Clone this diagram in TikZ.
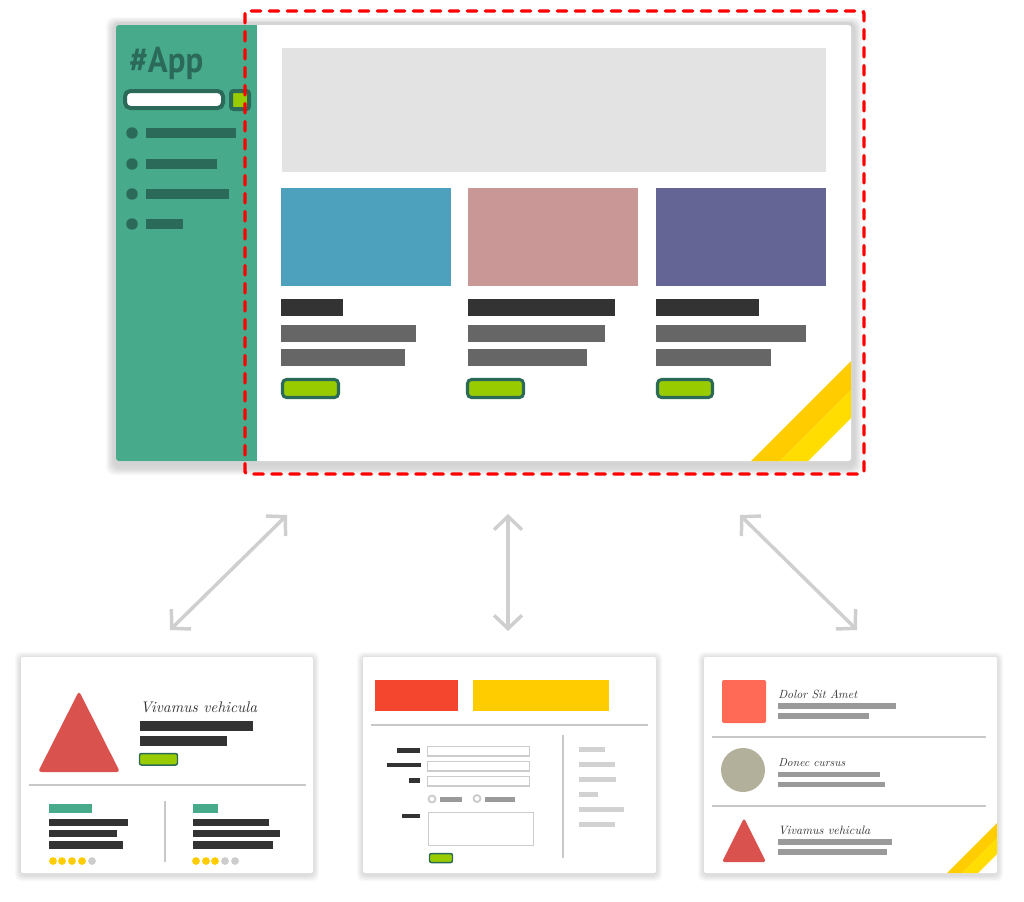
\documentclass[tikz,border=0pt]{standalone}
\usepackage{fontspec}
\newfontfamily\appfont{PT Sans}
\usetikzlibrary{arrows.meta}
\definecolor{sidegreen}{HTML}{47AA8B}
\definecolor{darkteal}{HTML}{2B6A58}
\definecolor{lime}{HTML}{99CC00}
\definecolor{herogray}{HTML}{E3E3E3}
\definecolor{cardblue}{HTML}{4DA1BD}
\definecolor{cardpink}{HTML}{C99896}
\definecolor{cardpurple}{HTML}{646595}
\definecolor{bardark}{HTML}{333333}
\definecolor{barmid}{HTML}{666666}
\definecolor{barlight}{HTML}{9A9A9A}
\definecolor{barpale}{HTML}{D2D2D2}
\definecolor{ydark}{HTML}{FFCC00}
\definecolor{ylight}{HTML}{FFDD00}
\definecolor{arrowgray}{HTML}{CFCFCF}
\definecolor{framegray}{HTML}{D4D4D4}
\definecolor{sepgray}{HTML}{C8C8C8}
\definecolor{tri}{HTML}{DA524D}
\definecolor{salmon}{HTML}{FE6A56}
\definecolor{khaki}{HTML}{B2B09A}
\definecolor{hred}{HTML}{F4462F}
\definecolor{starg}{HTML}{CCCCCC}
\tikzset{
  dbar/.style={fill=bardark},
  mbar/.style={fill=barmid},
  lbar/.style={fill=barlight},
  pbar/.style={fill=barpale},
  bigbtn/.style={draw=darkteal, line width=2.3pt, fill=lime, rounded corners=3pt},
  smallbtn/.style={draw=darkteal, line width=1.1pt, fill=lime, rounded corners=1.5pt},
  sep/.style={draw=sepgray, line width=1.5pt},
  inbox/.style={draw=starg, line width=1.4pt, fill=white},
  conn/.style={draw=arrowgray, line width=2.6pt,
    {Straight Barb[length=10pt,width=21pt]}-{Straight Barb[length=10pt,width=21pt]}},
  reddash/.style={draw=red, line width=2.6pt, line cap=round, dash pattern=on 7pt off 6.5pt},
  hand/.style={inner sep=0pt, anchor=base west, text=bardark},
  panelbox/.style={fill=white, rounded corners=1.5pt},
}
\begin{document}
\begin{tikzpicture}[x=0.75pt,y=-0.75pt]
\useasboundingbox (0,0) rectangle (1024,901);
% ---------- main window ----------
\foreach \i in {1,...,7} {
  \fill[black, opacity=0.022, rounded corners=6pt] (113-\i,22-\i+2) rectangle (855+\i,466+\i+2);
}
\fill[framegray, rounded corners=4pt] (113,22) rectangle (855,466);
\fill[white, rounded corners=2pt] (116,25) rectangle (851,461);
\fill[sidegreen, rounded corners=2pt] (116,25) rectangle (262,461);
\fill[white] (257,25) rectangle (266,461);
\begin{scope}
  \clip[rounded corners=2pt] (116,25) rectangle (851,461);
  \fill[ydark] (751,461) -- (780,461) -- (851,390) -- (851,361) -- cycle;
  \fill[ylight] (780,461) -- (808,461) -- (851,418) -- (851,390) -- cycle;
\end{scope}
% sidebar
\node[inner sep=0pt, anchor=base west, text=darkteal] (apptitle) at (129,72)
  {\resizebox{55.5pt}{19pt}{\appfont\bfseries\#App}};
\draw[darkteal, line width=3pt, fill=white, rounded corners=4pt] (125,91) rectangle (223,108);
\draw[darkteal, line width=3pt, fill=lime, rounded corners=2pt] (231,91) rectangle (249,109);
\foreach \y/\w in {133/236, 164/217, 194/229, 224/183} {
  \fill[darkteal] (132,\y) circle (4.3pt);
  \fill[darkteal] (146,\y-5) rectangle (\w,\y+5);
}
% hero and cards
\fill[herogray] (282,48) rectangle (826,172);
\fill[cardblue] (281,188) rectangle (451,286);
\fill[cardpink] (468,188) rectangle (638,286);
\fill[cardpurple] (656,188) rectangle (826,286);
\fill[dbar] (281,299) rectangle (343,316);
\fill[dbar] (468,299) rectangle (615,316);
\fill[dbar] (656,299) rectangle (759,316);
\fill[mbar] (281,325) rectangle (416,342);
\fill[mbar] (281,349) rectangle (405,366);
\fill[mbar] (468,325) rectangle (605,342);
\fill[mbar] (468,349) rectangle (587,366);
\fill[mbar] (656,325) rectangle (806,342);
\fill[mbar] (656,349) rectangle (771,366);
\draw[bigbtn] (282.5,379.5) rectangle (338.5,397.5);
\draw[bigbtn] (467.5,379.5) rectangle (523.5,397.5);
\draw[bigbtn] (657.5,379.5) rectangle (712.5,397.5);
% red dashed frame
\draw[reddash, rounded corners=2pt] (245,11) rectangle (864,474);
% ---------- arrows ----------
\coordinate (a1top) at (287,515);
\coordinate (a1bot) at (170,630);
\coordinate (a2top) at (508,514);
\coordinate (a2bot) at (508,631);
\coordinate (a3top) at (740,515);
\coordinate (a3bot) at (857,630);
\draw[conn] (a1top) -- (a1bot);
\draw[conn] (a2top) -- (a2bot);
\draw[conn] (a3top) -- (a3bot);
% ---------- panel shadows ----------
\foreach \px/\qx in {21/313, 363/656, 704/997} {
  \foreach \i in {1,...,6} {
    \fill[black, opacity=0.022, rounded corners=4pt] (\px-\i,657-\i+1) rectangle (\qx+\i,873+\i+2);
  }
  \fill[panelbox] (\px,657) rectangle (\qx,873);
}
% ---------- panel 1 ----------
\fill[tri, rounded corners=2.5pt] (79,691) -- (120,772) -- (38,772) -- cycle;
\node[hand] (p1title) at (140,712) {\resizebox{87.75pt}{!}{\itshape Vivamus vehicula}};
\fill[dbar] (140,721) rectangle (253,731);
\fill[dbar] (140,736) rectangle (227,746);
\draw[smallbtn] (139.5,753.5) rectangle (177.5,765);
\draw[sep] (29,785) -- (306,785);
\draw[sep] (165,801) -- (165,862);
\fill[sidegreen] (49,804) rectangle (92,813);
\fill[dbar] (49,819) rectangle (128,826);
\fill[dbar] (49,830) rectangle (117,837);
\fill[dbar] (49,841) rectangle (123,849);
\foreach \x in {53,62,72,82} {\fill[ydark] (\x,861) circle (2.9pt);}
\fill[starg] (92,861) circle (2.9pt);
\fill[sidegreen] (193,804) rectangle (218,813);
\fill[dbar] (193,819) rectangle (269,826);
\fill[dbar] (193,830) rectangle (280,837);
\fill[dbar] (193,841) rectangle (273,849);
\foreach \x in {196,206,215} {\fill[ydark] (\x,861) circle (2.9pt);}
\foreach \x in {225,235} {\fill[starg] (\x,861) circle (2.9pt);}
% ---------- panel 2 ----------
\fill[hred] (375,680) rectangle (458,711);
\fill[ydark] (473,680) rectangle (609,711);
\draw[sep] (371,725) -- (648,725);
\draw[sep] (563,735) -- (563,858);
\fill[dbar] (397,748) rectangle (420,753);
\fill[dbar] (387,763) rectangle (421,767);
\fill[dbar] (409,778) rectangle (420,783);
\fill[dbar] (402,814) rectangle (420,818);
\draw[inbox] (427.5,746.5) rectangle (529.5,756);
\draw[inbox] (427.5,761.5) rectangle (529.5,771);
\draw[inbox] (427.5,776.5) rectangle (529.5,786);
\draw[inbox] (432,799) circle (2.6pt);
\fill[barlight] (440,797) rectangle (462,802);
\draw[inbox] (477,798.5) circle (2.6pt);
\fill[barlight] (485,797) rectangle (515,802);
\draw[inbox] (428.5,812.5) rectangle (533.5,845.5);
\draw[smallbtn] (429.5,853.5) rectangle (452.5,862.5);
\fill[pbar] (579,747) rectangle (605,752);
\fill[pbar] (579,762) rectangle (615,767);
\fill[pbar] (579,777) rectangle (616,782);
\fill[pbar] (579,792) rectangle (598,797);
\fill[pbar] (579,807) rectangle (624,812);
\fill[pbar] (579,822) rectangle (615,827);
% ---------- panel 3 ----------
\begin{scope}
  \clip[rounded corners=1.5pt] (704,657) rectangle (997,873);
  \fill[ydark] (947,873) -- (962,873) -- (997,838) -- (997,823) -- cycle;
  \fill[ylight] (962,873) -- (978,873) -- (997,854) -- (997,838) -- cycle;
\end{scope}
\fill[salmon, rounded corners=1.5pt] (722,680) rectangle (766,723);
\node[hand] (p3t1) at (778,698) {\resizebox{59.25pt}{!}{\itshape Dolor Sit Amet}};
\fill[lbar] (778,703) rectangle (896,709);
\fill[lbar] (778,713) rectangle (869,719);
\draw[sep] (712,737) -- (986,737);
\fill[khaki] (743,770) circle (16.5pt);
\node[hand] (p3t2) at (778,766) {\resizebox{50.25pt}{!}{\itshape Donec cursus}};
\fill[lbar] (778,772) rectangle (880,777);
\fill[lbar] (778,782) rectangle (885,787);
\draw[sep] (712,806) -- (986,806);
\fill[tri, rounded corners=2pt] (744,818) -- (766,862) -- (722,862) -- cycle;
\node[hand] (p3t3) at (778,834) {\resizebox{69pt}{!}{\itshape Vivamus vehicula}};
\fill[lbar] (778,839) rectangle (892,845);
\fill[lbar] (778,849) rectangle (887,855);
\end{tikzpicture}
\end{document}
